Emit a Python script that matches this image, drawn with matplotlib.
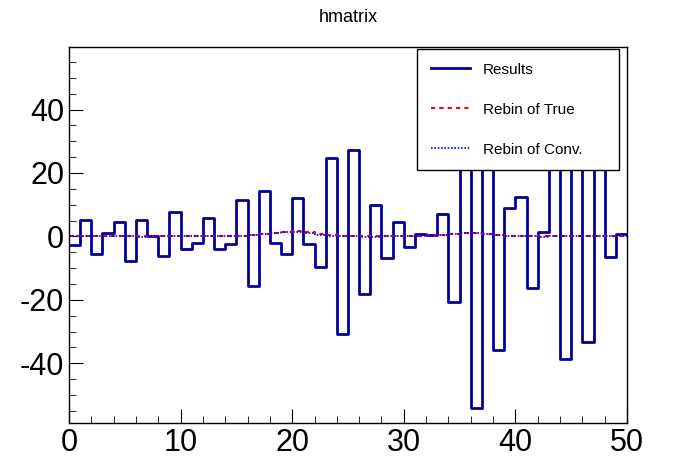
import numpy as np
import matplotlib
matplotlib.use("Agg")
import matplotlib.pyplot as plt
from matplotlib.ticker import MultipleLocator

plt.rcParams['font.family'] = ['Liberation Sans', 'DejaVu Sans']
plt.rcParams['axes.unicode_minus'] = False

edges = np.arange(0, 51, 1)
results = [-2.6, 5.3, -5.4, 1.0, 4.4, -7.6, 5.1, 0.0, -6.1, 7.6,
           -4.1, -2.2, 5.7, -4.1, -2.5, 11.4, -15.6, 14.2, -2.2, -5.4,
           12.0, -2.5, -9.5, 24.8, -30.7, 27.2, -18.1, 9.8, -6.8, 4.7,
           -3.3, 0.7, 0.3, 7.1, -20.7, 40.0, -54.0, 45.0, -35.9, 9.1,
           12.3, -16.2, 1.5, 35.0, -38.7, 30.0, -33.3, 25.0, -6.4, 0.7]
rebin_true = [0, 0, 0, 0, 0, 0, 0, 0, 0, 0,
              0, 0, 0, 0, 0, 0.2, 0.5, 0.9, 1.2, 1.5,
              1.6, 1.3, 0.7, 0.3, 0.1, 0, 0, 0, 0, 0,
              0, 0.1, 0.3, 0.6, 0.9, 1.1, 1.1, 0.8, 0.4, 0.1,
              0, 0, 0, 0, 0, 0, 0, 0, 0, 0]
rebin_conv = [0, 0, 0, 0, 0, 0, -0.3, 0, 0, 0,
              0, 0, 0, 0, 0, 0.1, 0.4, 0.8, 1.1, 1.4,
              1.5, 1.2, 0.6, 0.2, 0, 0, -0.2, -0.3, 0, 0,
              0, 0.1, 0.3, 0.5, 0.8, 1.0, 1.0, 0.7, 0.3, 0,
              0, 0, -0.2, 0, 0, 0, 0, 0, 0, 0]

W, H = 696, 472
fig = plt.figure(figsize=(W/100, H/100), dpi=100)
ax = fig.add_axes([69/W, 1-423/H, (627-69)/W, (423-47)/H])

def step(vals):
    return np.concatenate([vals, [vals[-1]]])

ax.step(edges, step(results), where='post', color='#000099', lw=2, label='Results')
ax.step(edges, step(rebin_true), where='post', color='red', lw=1.5, ls=(0, (2, 2)), label='Rebin of True')
ax.step(edges, step(rebin_conv), where='post', color='blue', lw=1.2, ls=(0, (1, 1)), label='Rebin of Conv.')

ax.set_xlim(0, 50)
ax.set_ylim(-58.8, 59.7)
ax.xaxis.set_major_locator(MultipleLocator(10))
ax.xaxis.set_minor_locator(MultipleLocator(2))
ax.yaxis.set_major_locator(MultipleLocator(20))
ax.yaxis.set_minor_locator(MultipleLocator(5))
ax.tick_params(which='both', direction='in', top=False, right=False, labelsize=22)
ax.tick_params(which='major', length=10)
ax.tick_params(which='minor', length=5)
for s in ax.spines.values():
    s.set_linewidth(1)

aw, ah = 627-69, 423-47
leg = ax.legend(loc='upper left',
                bbox_to_anchor=((417-69)/aw, (423-188)/ah, (619-417)/aw, (188-49)/ah),
                mode='expand', fancybox=False, edgecolor='black', framealpha=1, fontsize=11,
                labelspacing=1.7, handlelength=2.6, borderpad=0.9, borderaxespad=0)
leg.get_frame().set_linewidth(1)
fig.text(0.5, 1-17/H, 'hmatrix', ha='center', va='center', fontsize=13)
fig.savefig('out.png', dpi=100)
